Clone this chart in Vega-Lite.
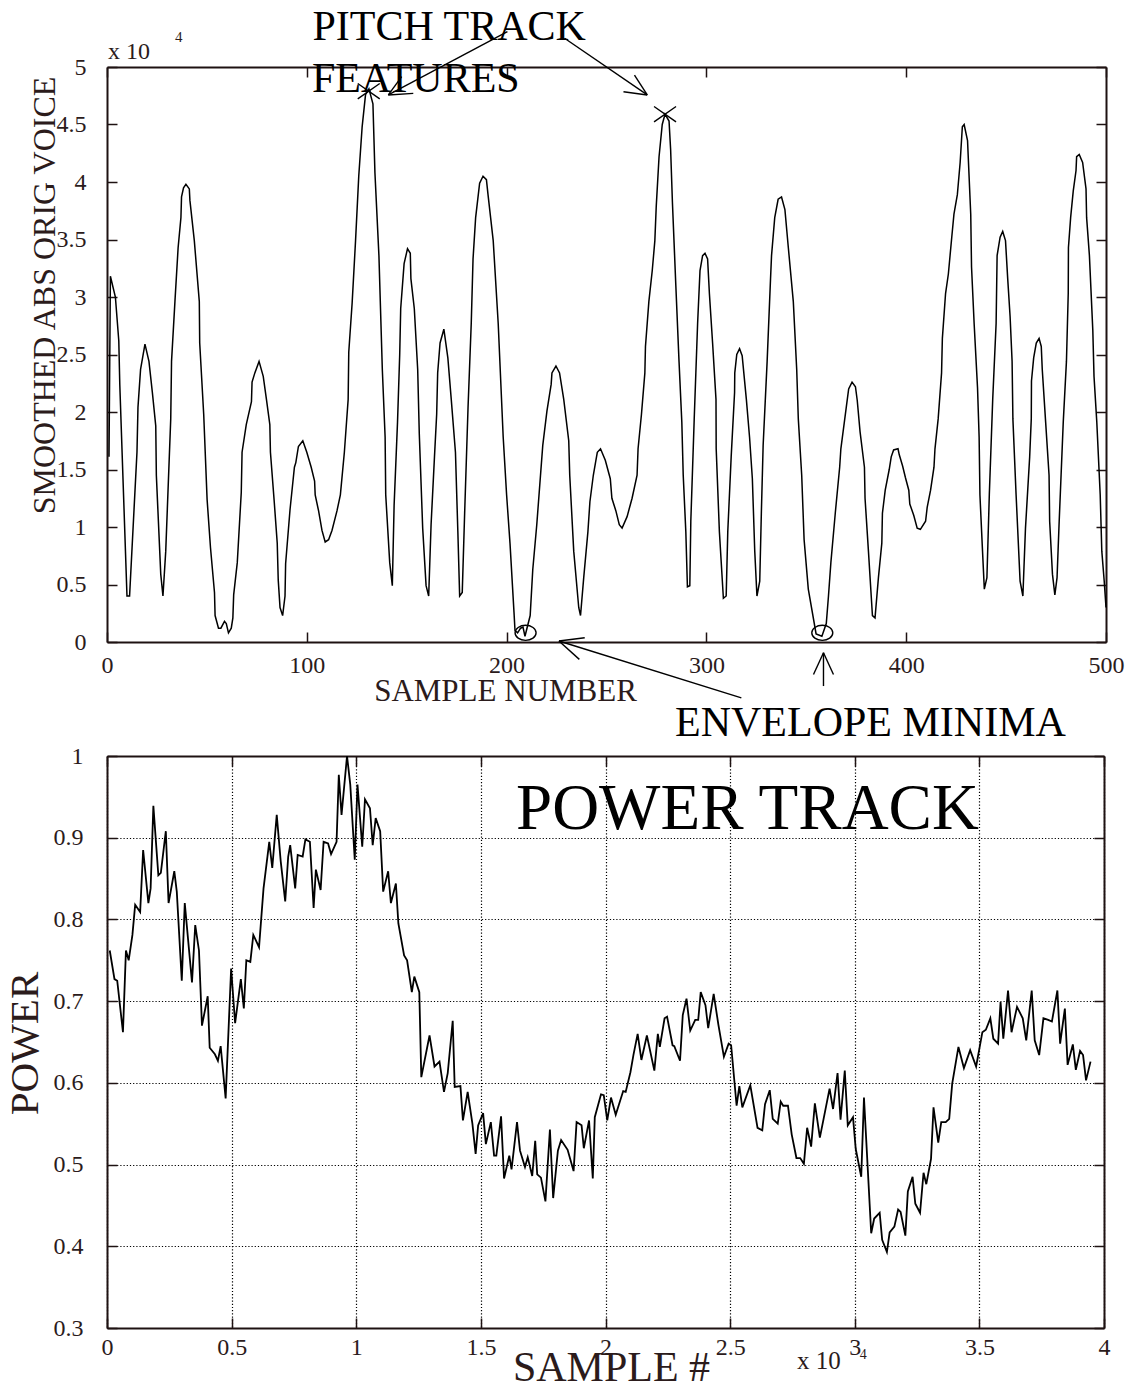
{
  "$schema": "https://vega.github.io/schema/vega-lite/v6.json",
  "background": "white",
  "padding": {"left": 4, "top": 5, "right": 5, "bottom": 2},
  "spacing": 114,
  "bounds": "flush",
  "datasets": {
    "voice": [
      {"s":1,"v":1.61},{"s":1.7,"v":3.18},{"s":4.2,"v":3.0},{"s":5.9,"v":2.62},{"s":6.4,"v":2.24},{"s":10,"v":0.4},{"s":11.3,"v":0.4},
      {"s":15,"v":1.65},{"s":15.5,"v":2.04},{"s":16.8,"v":2.37},{"s":19,"v":2.59},{"s":21,"v":2.44},{"s":22.7,"v":2.17},{"s":24.4,"v":1.88},
      {"s":24.7,"v":1.45},{"s":26.9,"v":0.59},{"s":28,"v":0.4},{"s":29.4,"v":0.79},{"s":31.9,"v":1.94},{"s":32.3,"v":2.44},{"s":34,"v":2.96},
      {"s":35.6,"v":3.43},{"s":37,"v":3.69},{"s":37.3,"v":3.87},{"s":38.3,"v":3.95},{"s":39.5,"v":3.98},{"s":41.2,"v":3.94},{"s":41.5,"v":3.84},
      {"s":43.7,"v":3.49},{"s":46.2,"v":2.96},{"s":46.4,"v":2.6},{"s":48.4,"v":1.98},{"s":50.1,"v":1.24},{"s":51.8,"v":0.82},{"s":53.8,"v":0.43},
      {"s":54.1,"v":0.23},{"s":55.8,"v":0.12},{"s":57,"v":0.12},{"s":58.8,"v":0.18},{"s":59.7,"v":0.16},{"s":60.8,"v":0.08},{"s":62.2,"v":0.12},
      {"s":63,"v":0.21},{"s":63.4,"v":0.41},{"s":65.2,"v":0.69},{"s":67.2,"v":1.3},{"s":67.6,"v":1.65},{"s":69.7,"v":1.89},{"s":72.3,"v":2.09},
      {"s":72.6,"v":2.26},{"s":74,"v":2.34},{"s":76.1,"v":2.44},{"s":78.2,"v":2.31},{"s":79.8,"v":2.11},{"s":81.5,"v":1.89},{"s":81.8,"v":1.65},
      {"s":83.7,"v":1.22},{"s":85.2,"v":0.86},{"s":85.7,"v":0.54},{"s":86.6,"v":0.3},{"s":87.9,"v":0.23},{"s":89.1,"v":0.4},{"s":89.4,"v":0.68},
      {"s":91.6,"v":1.15},{"s":93.8,"v":1.52},{"s":94.5,"v":1.56},{"s":95.8,"v":1.7},{"s":98,"v":1.75},{"s":100,"v":1.65},{"s":102.2,"v":1.52},
      {"s":103.9,"v":1.4},{"s":104.2,"v":1.28},{"s":105.9,"v":1.14},{"s":107.6,"v":0.97},{"s":109.2,"v":0.87},{"s":110.9,"v":0.89},{"s":112.6,"v":0.97},
      {"s":115.1,"v":1.14},{"s":116.8,"v":1.28},{"s":118.8,"v":1.65},{"s":120.7,"v":2.11},{"s":121,"v":2.52},{"s":122.7,"v":2.95},{"s":124.4,"v":3.49},
      {"s":126,"v":4.05},{"s":127.7,"v":4.48},{"s":129.4,"v":4.76},{"s":131.1,"v":4.81},{"s":133.1,"v":4.68},{"s":134.1,"v":4.08},{"s":136.1,"v":3.36},
      {"s":137.8,"v":2.37},{"s":139.2,"v":1.78},{"s":139.5,"v":1.28},{"s":141.5,"v":0.69},{"s":142.8,"v":0.49},{"s":143.7,"v":1.19},{"s":145.4,"v":1.91},
      {"s":146.5,"v":2.5},{"s":147,"v":2.9},{"s":148.7,"v":3.29},{"s":150.4,"v":3.42},{"s":151.8,"v":3.38},{"s":152.1,"v":3.16},{"s":153.8,"v":2.9},
      {"s":155.5,"v":2.37},{"s":156.3,"v":1.81},{"s":158,"v":0.99},{"s":159.7,"v":0.49},{"s":161,"v":0.4},{"s":162.2,"v":1.02},{"s":163.9,"v":1.61},
      {"s":165,"v":1.98},{"s":165.5,"v":2.34},{"s":166.7,"v":2.6},{"s":168.6,"v":2.72},{"s":170.6,"v":2.47},{"s":172.3,"v":2.11},{"s":174.4,"v":1.65},
      {"s":175.6,"v":0.96},{"s":176.5,"v":0.4},{"s":177.8,"v":0.43},{"s":179,"v":1.12},{"s":180.7,"v":2.04},{"s":182.3,"v":2.77},{"s":183.2,"v":3.33},
      {"s":184.5,"v":3.69},{"s":186.5,"v":3.99},{"s":188.2,"v":4.05},{"s":189.9,"v":4.02},{"s":190.7,"v":3.89},{"s":193.3,"v":3.49},{"s":195.8,"v":2.77},
      {"s":198.3,"v":1.78},{"s":200,"v":1.28},{"s":201.7,"v":0.86},{"s":203.7,"v":0.26},{"s":204.2,"v":0.1},{"s":205.5,"v":0.08},{"s":207,"v":0.12},
      {"s":208.2,"v":0.13},{"s":209.2,"v":0.05},{"s":211.8,"v":0.23},{"s":213.1,"v":0.63},{"s":215.1,"v":1.02},{"s":218.1,"v":1.71},{"s":220.2,"v":2.01},
      {"s":222.3,"v":2.24},{"s":222.7,"v":2.34},{"s":224.7,"v":2.4},{"s":226.5,"v":2.34},{"s":228.6,"v":2.11},{"s":231.1,"v":1.75},{"s":231.6,"v":1.45},
      {"s":233.6,"v":0.79},{"s":236.1,"v":0.3},{"s":237,"v":0.23},{"s":238.6,"v":0.56},{"s":240.7,"v":0.96},{"s":241.7,"v":1.22},{"s":243.4,"v":1.45},
      {"s":244.5,"v":1.56},{"s":245.4,"v":1.65},{"s":247,"v":1.68},{"s":249.4,"v":1.58},{"s":251.9,"v":1.42},{"s":252.7,"v":1.25},{"s":254.7,"v":1.14},
      {"s":256.4,"v":1.02},{"s":257.8,"v":0.99},{"s":260.3,"v":1.09},{"s":262.8,"v":1.25},{"s":265.3,"v":1.45},{"s":265.8,"v":1.68},{"s":267.5,"v":1.98},
      {"s":269.2,"v":2.34},{"s":269.5,"v":2.57},{"s":271.2,"v":2.96},{"s":272.9,"v":3.23},{"s":274.2,"v":3.49},{"s":274.9,"v":3.79},{"s":276.3,"v":4.22},
      {"s":277.9,"v":4.5},{"s":279.3,"v":4.59},{"s":281.3,"v":4.53},{"s":282.1,"v":4.28},{"s":283,"v":3.82},{"s":284.7,"v":3.1},{"s":286.3,"v":2.44},
      {"s":287.7,"v":1.91},{"s":288.4,"v":1.45},{"s":289.7,"v":0.96},{"s":290.5,"v":0.48},{"s":291.7,"v":0.49},{"s":292.2,"v":1.05},{"s":293.9,"v":1.94},
      {"s":295.6,"v":2.77},{"s":296.8,"v":3.23},{"s":298.1,"v":3.36},{"s":299.3,"v":3.38},{"s":300.6,"v":3.33},{"s":301.5,"v":3.03},{"s":303.1,"v":2.6},
      {"s":304.8,"v":2.11},{"s":304.9,"v":1.68},{"s":306.5,"v":0.96},{"s":308.5,"v":0.38},{"s":309.9,"v":0.4},{"s":310.7,"v":0.96},{"s":312.4,"v":1.61},
      {"s":314.1,"v":2.17},{"s":314.2,"v":2.34},{"s":315.2,"v":2.5},{"s":316.6,"v":2.55},{"s":317.9,"v":2.49},{"s":320,"v":2.11},{"s":321.6,"v":1.78},
      {"s":323,"v":1.42},{"s":324.2,"v":0.79},{"s":325.3,"v":0.4},{"s":326.7,"v":0.53},{"s":327.5,"v":1.12},{"s":328.4,"v":1.71},{"s":330.4,"v":2.44},
      {"s":332.1,"v":3.16},{"s":332.6,"v":3.36},{"s":334.2,"v":3.69},{"s":335.9,"v":3.85},{"s":337.6,"v":3.87},{"s":339.3,"v":3.76},{"s":341,"v":3.43},
      {"s":343.5,"v":2.96},{"s":345.2,"v":2.37},{"s":346,"v":1.94},{"s":347.7,"v":1.45},{"s":348.9,"v":0.89},{"s":351,"v":0.46},{"s":353.6,"v":0.2},
      {"s":354.9,"v":0.07},{"s":357.8,"v":0.05},{"s":360,"v":0.16},{"s":361.1,"v":0.4},{"s":362.3,"v":0.69},{"s":364.5,"v":1.12},{"s":366.7,"v":1.52},
      {"s":367.3,"v":1.68},{"s":370,"v":2.04},{"s":371.2,"v":2.2},{"s":372.9,"v":2.26},{"s":374.6,"v":2.22},{"s":375.5,"v":2.1},{"s":376.9,"v":1.83},
      {"s":379.1,"v":1.52},{"s":379.4,"v":1.25},{"s":381.1,"v":0.79},{"s":383.1,"v":0.23},{"s":384.4,"v":0.21},{"s":386.1,"v":0.56},{"s":387.8,"v":0.86},
      {"s":388.1,"v":1.12},{"s":389.5,"v":1.32},{"s":391.5,"v":1.5},{"s":392.5,"v":1.61},{"s":393.7,"v":1.67},{"s":395.9,"v":1.68},{"s":396.5,"v":1.63},
      {"s":398.2,"v":1.53},{"s":399.6,"v":1.43},{"s":401.3,"v":1.32},{"s":401.8,"v":1.2},{"s":403.8,"v":1.1},{"s":405.5,"v":0.99},{"s":407.1,"v":0.98},
      {"s":409.7,"v":1.05},{"s":410.5,"v":1.17},{"s":412.2,"v":1.32},{"s":413.9,"v":1.52},{"s":414.4,"v":1.68},{"s":416,"v":1.94},{"s":417.7,"v":2.34},
      {"s":418.1,"v":2.64},{"s":419.7,"v":3.03},{"s":421.1,"v":3.2},{"s":422.8,"v":3.52},{"s":423.9,"v":3.72},{"s":425.6,"v":3.89},{"s":427,"v":4.17},
      {"s":428.1,"v":4.48},{"s":429,"v":4.5},{"s":430.7,"v":4.36},{"s":432.3,"v":3.72},{"s":432.7,"v":3.26},{"s":434,"v":2.77},{"s":435.7,"v":2.21},
      {"s":436.5,"v":1.78},{"s":436.9,"v":1.28},{"s":438.2,"v":0.79},{"s":439.1,"v":0.46},{"s":440.4,"v":0.56},{"s":441.6,"v":1.28},{"s":443.3,"v":2.11},
      {"s":445,"v":2.77},{"s":445.5,"v":3.36},{"s":447,"v":3.52},{"s":448.3,"v":3.57},{"s":449.7,"v":3.49},{"s":450.8,"v":3.16},{"s":452,"v":2.83},
      {"s":453,"v":2.44},{"s":453.4,"v":1.94},{"s":455,"v":1.28},{"s":457,"v":0.53},{"s":458.4,"v":0.4},{"s":459.7,"v":0.99},{"s":461.8,"v":1.61},
      {"s":462.6,"v":1.94},{"s":462.7,"v":2.27},{"s":463.8,"v":2.47},{"s":465.1,"v":2.6},{"s":466.5,"v":2.64},{"s":467.6,"v":2.57},{"s":468.1,"v":2.37},
      {"s":469.8,"v":1.91},{"s":471.5,"v":1.45},{"s":471.8,"v":1.05},{"s":473.2,"v":0.59},{"s":474.4,"v":0.41},{"s":475.5,"v":0.56},{"s":476.5,"v":1.02},
      {"s":478.6,"v":1.91},{"s":480.2,"v":2.44},{"s":481.1,"v":3.03},{"s":481.2,"v":3.43},{"s":482.3,"v":3.69},{"s":483.6,"v":3.92},{"s":485,"v":4.1},
      {"s":485.3,"v":4.22},{"s":486.6,"v":4.24},{"s":488.3,"v":4.17},{"s":490,"v":3.94},{"s":490.3,"v":3.69},{"s":491.7,"v":3.36},{"s":493.4,"v":2.71},
      {"s":494,"v":2.31},{"s":495.4,"v":1.91},{"s":497.1,"v":1.28},{"s":497.9,"v":0.79},{"s":499.1,"v":0.53},{"s":500,"v":0.3}
    ],
    "pitchMarks": [{"s":131,"v":4.79},{"s":279.3,"v":4.59}],
    "minima": [{"s":209.5,"v":0.08},{"s":358,"v":0.08}],
    "arrows": [
      {"s":200.4,"v":5.307,"s2":140.8,"v2":4.757},
      {"s":140.8,"v":4.757,"s2":153.3,"v2":4.771},
      {"s":140.8,"v":4.757,"s2":147.5,"v2":4.916},
      {"s":229,"v":5.25,"s2":270.4,"v2":4.757},
      {"s":270.4,"v":4.757,"s2":264,"v2":4.93},
      {"s":270.4,"v":4.757,"s2":258.5,"v2":4.785},
      {"s":317.5,"v":-0.486,"s2":226.2,"v2":0.009},
      {"s":226.2,"v":0.009,"s2":236.4,"v2":-0.151},
      {"s":226.2,"v":0.009,"s2":239.1,"v2":0.037},
      {"s":358.6,"v":-0.383,"s2":358.6,"v2":-0.093},
      {"s":358.6,"v":-0.093,"s2":353.6,"v2":-0.283},
      {"s":358.6,"v":-0.093,"s2":363.6,"v2":-0.283}
    ],
    "bigNotes": [
      {"s":102.8,"v":5.235,"label":"PITCH TRACK"},
      {"s":102.6,"v":4.785,"label":"FEATURES"},
      {"s":284.3,"v":-0.815,"label":"ENVELOPE MINIMA"}
    ],
    "power": [
      {"x":0.011,"p":0.762},{"x":0.03,"p":0.727},{"x":0.041,"p":0.725},{"x":0.064,"p":0.662},{"x":0.076,"p":0.762},{"x":0.087,"p":0.75},
      {"x":0.102,"p":0.781},{"x":0.113,"p":0.818},{"x":0.133,"p":0.809},{"x":0.145,"p":0.885},{"x":0.166,"p":0.82},{"x":0.175,"p":0.838},
      {"x":0.186,"p":0.939},{"x":0.206,"p":0.854},{"x":0.216,"p":0.857},{"x":0.236,"p":0.908},{"x":0.247,"p":0.82},{"x":0.27,"p":0.859},
      {"x":0.28,"p":0.834},{"x":0.3,"p":0.725},{"x":0.312,"p":0.82},{"x":0.341,"p":0.723},{"x":0.354,"p":0.793},{"x":0.369,"p":0.762},
      {"x":0.381,"p":0.67},{"x":0.404,"p":0.706},{"x":0.412,"p":0.643},{"x":0.433,"p":0.635},{"x":0.445,"p":0.627},{"x":0.456,"p":0.645},
      {"x":0.476,"p":0.581},{"x":0.498,"p":0.74},{"x":0.514,"p":0.673},{"x":0.537,"p":0.727},{"x":0.549,"p":0.691},{"x":0.559,"p":0.75},
      {"x":0.575,"p":0.748},{"x":0.587,"p":0.781},{"x":0.61,"p":0.766},{"x":0.628,"p":0.838},{"x":0.651,"p":0.895},{"x":0.663,"p":0.863},
      {"x":0.681,"p":0.928},{"x":0.697,"p":0.871},{"x":0.715,"p":0.822},{"x":0.727,"p":0.877},{"x":0.735,"p":0.891},{"x":0.755,"p":0.838},
      {"x":0.765,"p":0.879},{"x":0.785,"p":0.877},{"x":0.796,"p":0.898},{"x":0.814,"p":0.895},{"x":0.829,"p":0.814},{"x":0.838,"p":0.861},
      {"x":0.857,"p":0.836},{"x":0.869,"p":0.895},{"x":0.887,"p":0.893},{"x":0.899,"p":0.88},{"x":0.921,"p":0.895},{"x":0.93,"p":0.977},
      {"x":0.941,"p":0.928},{"x":0.963,"p":1.0},{"x":0.976,"p":0.965},{"x":0.994,"p":0.873},{"x":1.005,"p":0.965},{"x":1.024,"p":0.889},
      {"x":1.035,"p":0.947},{"x":1.055,"p":0.936},{"x":1.066,"p":0.891},{"x":1.078,"p":0.924},{"x":1.096,"p":0.908},{"x":1.108,"p":0.834},
      {"x":1.128,"p":0.859},{"x":1.139,"p":0.82},{"x":1.159,"p":0.844},{"x":1.169,"p":0.795},{"x":1.192,"p":0.756},{"x":1.204,"p":0.75},
      {"x":1.223,"p":0.711},{"x":1.233,"p":0.73},{"x":1.253,"p":0.711},{"x":1.261,"p":0.607},{"x":1.294,"p":0.658},{"x":1.314,"p":0.62},
      {"x":1.334,"p":0.626},{"x":1.352,"p":0.589},{"x":1.367,"p":0.612},{"x":1.387,"p":0.676},{"x":1.395,"p":0.595},{"x":1.418,"p":0.596},
      {"x":1.428,"p":0.554},{"x":1.447,"p":0.589},{"x":1.466,"p":0.55},{"x":1.479,"p":0.513},{"x":1.489,"p":0.548},{"x":1.509,"p":0.563},
      {"x":1.52,"p":0.525},{"x":1.54,"p":0.552},{"x":1.553,"p":0.511},{"x":1.562,"p":0.511},{"x":1.581,"p":0.559},{"x":1.593,"p":0.483},
      {"x":1.614,"p":0.511},{"x":1.623,"p":0.494},{"x":1.645,"p":0.552},{"x":1.657,"p":0.517},{"x":1.677,"p":0.497},{"x":1.688,"p":0.509},
      {"x":1.706,"p":0.486},{"x":1.718,"p":0.529},{"x":1.726,"p":0.488},{"x":1.741,"p":0.484},{"x":1.759,"p":0.455},{"x":1.777,"p":0.543},
      {"x":1.79,"p":0.459},{"x":1.809,"p":0.517},{"x":1.822,"p":0.53},{"x":1.848,"p":0.518},{"x":1.872,"p":0.492},{"x":1.884,"p":0.552},
      {"x":1.904,"p":0.548},{"x":1.913,"p":0.52},{"x":1.934,"p":0.554},{"x":1.949,"p":0.483},{"x":1.957,"p":0.558},{"x":1.982,"p":0.586},
      {"x":1.993,"p":0.585},{"x":2.007,"p":0.554},{"x":2.022,"p":0.582},{"x":2.041,"p":0.561},{"x":2.071,"p":0.59},{"x":2.081,"p":0.589},
      {"x":2.1,"p":0.613},{"x":2.112,"p":0.634},{"x":2.129,"p":0.66},{"x":2.144,"p":0.628},{"x":2.166,"p":0.658},{"x":2.196,"p":0.615},
      {"x":2.21,"p":0.66},{"x":2.218,"p":0.644},{"x":2.237,"p":0.679},{"x":2.247,"p":0.681},{"x":2.269,"p":0.646},{"x":2.276,"p":0.645},
      {"x":2.299,"p":0.627},{"x":2.31,"p":0.683},{"x":2.325,"p":0.703},{"x":2.34,"p":0.664},{"x":2.36,"p":0.677},{"x":2.372,"p":0.677},
      {"x":2.382,"p":0.711},{"x":2.401,"p":0.695},{"x":2.412,"p":0.667},{"x":2.434,"p":0.709},{"x":2.453,"p":0.671},{"x":2.475,"p":0.632},
      {"x":2.494,"p":0.648},{"x":2.504,"p":0.646},{"x":2.526,"p":0.572},{"x":2.537,"p":0.596},{"x":2.549,"p":0.57},{"x":2.581,"p":0.597},
      {"x":2.61,"p":0.545},{"x":2.629,"p":0.542},{"x":2.64,"p":0.574},{"x":2.659,"p":0.591},{"x":2.671,"p":0.556},{"x":2.691,"p":0.55},
      {"x":2.703,"p":0.577},{"x":2.713,"p":0.572},{"x":2.732,"p":0.572},{"x":2.747,"p":0.537},{"x":2.766,"p":0.508},{"x":2.781,"p":0.508},
      {"x":2.796,"p":0.501},{"x":2.809,"p":0.545},{"x":2.825,"p":0.522},{"x":2.84,"p":0.575},{"x":2.86,"p":0.533},{"x":2.875,"p":0.556},
      {"x":2.899,"p":0.593},{"x":2.913,"p":0.568},{"x":2.931,"p":0.612},{"x":2.943,"p":0.555},{"x":2.96,"p":0.615},{"x":2.972,"p":0.548},
      {"x":2.993,"p":0.558},{"x":3.004,"p":0.519},{"x":3.026,"p":0.485},{"x":3.037,"p":0.582},{"x":3.066,"p":0.416},{"x":3.078,"p":0.434},
      {"x":3.1,"p":0.441},{"x":3.11,"p":0.408},{"x":3.129,"p":0.393},{"x":3.14,"p":0.417},{"x":3.159,"p":0.424},{"x":3.174,"p":0.445},
      {"x":3.184,"p":0.442},{"x":3.203,"p":0.413},{"x":3.213,"p":0.467},{"x":3.232,"p":0.485},{"x":3.243,"p":0.452},{"x":3.262,"p":0.441},
      {"x":3.276,"p":0.49},{"x":3.287,"p":0.476},{"x":3.306,"p":0.507},{"x":3.316,"p":0.57},{"x":3.335,"p":0.527},{"x":3.347,"p":0.552},
      {"x":3.365,"p":0.552},{"x":3.379,"p":0.556},{"x":3.391,"p":0.599},{"x":3.416,"p":0.644},{"x":3.438,"p":0.618},{"x":3.463,"p":0.64},
      {"x":3.487,"p":0.62},{"x":3.512,"p":0.662},{"x":3.526,"p":0.665},{"x":3.544,"p":0.679},{"x":3.556,"p":0.654},{"x":3.575,"p":0.648},
      {"x":3.585,"p":0.699},{"x":3.596,"p":0.654},{"x":3.615,"p":0.713},{"x":3.629,"p":0.662},{"x":3.651,"p":0.693},{"x":3.674,"p":0.679},
      {"x":3.688,"p":0.652},{"x":3.71,"p":0.713},{"x":3.722,"p":0.652},{"x":3.74,"p":0.634},{"x":3.757,"p":0.679},{"x":3.776,"p":0.677},
      {"x":3.791,"p":0.675},{"x":3.813,"p":0.713},{"x":3.824,"p":0.648},{"x":3.843,"p":0.691},{"x":3.854,"p":0.622},{"x":3.875,"p":0.647},
      {"x":3.887,"p":0.616},{"x":3.904,"p":0.639},{"x":3.916,"p":0.634},{"x":3.928,"p":0.603},{"x":3.946,"p":0.626}
    ]
  },
  "vconcat": [
    {
      "width": 999,
      "height": 575,
      "layer": [
        {
          "data": {"name": "voice"},
          "mark": {"type": "line", "color": "black", "strokeWidth": 1.5},
          "encoding": {
            "x": {"field": "s", "type": "quantitative",
              "scale": {"domain": [0, 500], "nice": false, "zero": false},
              "axis": {"orient": "bottom", "values": [0, 100, 200, 300, 400, 500], "labelPadding": 21,
                "title": "SAMPLE NUMBER", "titleFontSize": 31, "titleX": 398, "titleY": 58,
                "titleBaseline": "alphabetic", "titleAlign": "center"}},
            "y": {"field": "v", "type": "quantitative",
              "scale": {"domain": [0, 5], "nice": false},
              "axis": {"orient": "left", "values": [0, 0.5, 1, 1.5, 2, 2.5, 3, 3.5, 4, 4.5, 5], "format": "~g", "labelPadding": 31,
                "title": "SMOOTHED ABS ORIG VOICE", "titleFontSize": 32, "titleAngle": -90, "titleX": -53, "titleY": 228,
                "titleBaseline": "alphabetic", "titleAlign": "center"}}
          }
        },
        {
          "data": {"name": "pitchMarks"},
          "mark": {"type": "point", "shape": "M -1 -0.7 L 1 0.7 M -1 0.7 L 1 -0.7", "filled": false, "stroke": "black", "strokeWidth": 1.4, "size": 484, "opacity": 1},
          "encoding": {
            "x": {"field": "s", "type": "quantitative",
              "scale": {"domain": [0, 500], "nice": false, "zero": false},
              "axis": {"orient": "top", "values": [0, 100, 200, 300, 400, 500], "labels": false, "title": null}},
            "y": {"field": "v", "type": "quantitative",
              "scale": {"domain": [0, 5], "nice": false},
              "axis": {"orient": "right", "values": [0, 0.5, 1, 1.5, 2, 2.5, 3, 3.5, 4, 4.5, 5], "labels": false, "title": null}}
          }
        },
        {
          "data": {"name": "minima"},
          "mark": {"type": "point", "shape": "M -1 0 A 1 0.72 0 1 0 1 0 A 1 0.72 0 1 0 -1 0", "filled": false, "stroke": "black", "strokeWidth": 1.4, "size": 441, "opacity": 1},
          "encoding": {
            "x": {"field": "s", "type": "quantitative", "scale": {"domain": [0, 500], "nice": false, "zero": false}, "axis": null},
            "y": {"field": "v", "type": "quantitative", "scale": {"domain": [0, 5], "nice": false}, "axis": null}
          }
        },
        {
          "data": {"name": "arrows"},
          "mark": {"type": "rule", "color": "black", "strokeWidth": 1.4},
          "encoding": {
            "x": {"field": "s", "type": "quantitative", "scale": {"domain": [0, 500], "nice": false, "zero": false}, "axis": null},
            "y": {"field": "v", "type": "quantitative", "scale": {"domain": [0, 5], "nice": false}, "axis": null},
            "x2": {"field": "s2"},
            "y2": {"field": "v2"}
          }
        },
        {
          "data": {"name": "bigNotes"},
          "mark": {"type": "text", "align": "left", "baseline": "alphabetic", "fontSize": 42, "color": "black"},
          "encoding": {
            "x": {"field": "s", "type": "quantitative", "scale": {"domain": [0, 500], "nice": false, "zero": false}, "axis": null},
            "y": {"field": "v", "type": "quantitative", "scale": {"domain": [0, 5], "nice": false}, "axis": null},
            "text": {"field": "label"}
          }
        },
        {
          "data": {"values": [{"s": 0.5, "v": 5.07, "label": "x 10"}]},
          "mark": {"type": "text", "align": "left", "baseline": "alphabetic", "fontSize": 24, "color": "#2b1b1b"},
          "encoding": {
            "x": {"field": "s", "type": "quantitative", "scale": {"domain": [0, 500], "nice": false, "zero": false}, "axis": null},
            "y": {"field": "v", "type": "quantitative", "scale": {"domain": [0, 5], "nice": false}, "axis": null},
            "text": {"field": "label"}
          }
        },
        {
          "data": {"values": [{"s": 34, "v": 5.22, "label": "4"}]},
          "mark": {"type": "text", "align": "left", "baseline": "alphabetic", "fontSize": 15, "color": "#2b1b1b"},
          "encoding": {
            "x": {"field": "s", "type": "quantitative", "scale": {"domain": [0, 500], "nice": false, "zero": false}, "axis": null},
            "y": {"field": "v", "type": "quantitative", "scale": {"domain": [0, 5], "nice": false}, "axis": null},
            "text": {"field": "label"}
          }
        }
      ],
      "resolve": {"axis": {"x": "independent", "y": "independent"}}
    },
    {
      "width": 997,
      "height": 572,
      "layer": [
        {
          "data": {"name": "power"},
          "mark": {"type": "line", "color": "black", "strokeWidth": 1.8},
          "encoding": {
            "x": {"field": "x", "type": "quantitative",
              "scale": {"domain": [0, 4], "nice": false, "zero": false},
              "axis": {"orient": "bottom", "values": [0, 0.5, 1, 1.5, 2, 2.5, 3, 3.5, 4], "format": "~g", "labelPadding": 17,
                "grid": true, "gridDash": [1.2, 2], "gridColor": "black", "gridWidth": 1.2, "gridOpacity": 1,
                "title": "SAMPLE #", "titleFontSize": 42, "titleX": 504, "titleY": 52,
                "titleBaseline": "alphabetic", "titleAlign": "center"}},
            "y": {"field": "p", "type": "quantitative",
              "scale": {"domain": [0.3, 1], "nice": false, "zero": false},
              "axis": {"orient": "left", "values": [0.3, 0.4, 0.5, 0.6, 0.7, 0.8, 0.9, 1], "format": "~g", "labelPadding": 34,
                "grid": true, "gridDash": [1.2, 2], "gridColor": "black", "gridWidth": 1.2, "gridOpacity": 1,
                "title": "POWER", "titleFontSize": 41, "titleAngle": -90, "titleX": -70, "titleY": 287,
                "titleBaseline": "alphabetic", "titleAlign": "center"}}
          }
        },
        {
          "data": {"values": [{"x": 1.641, "p": 0.9106, "label": "POWER TRACK"}]},
          "mark": {"type": "text", "align": "left", "baseline": "alphabetic", "fontSize": 65, "color": "black"},
          "encoding": {
            "x": {"field": "x", "type": "quantitative",
              "scale": {"domain": [0, 4], "nice": false, "zero": false},
              "axis": {"orient": "top", "values": [0, 0.5, 1, 1.5, 2, 2.5, 3, 3.5, 4], "labels": false, "title": null, "grid": false}},
            "y": {"field": "p", "type": "quantitative",
              "scale": {"domain": [0.3, 1], "nice": false, "zero": false},
              "axis": {"orient": "right", "values": [0.3, 0.4, 0.5, 0.6, 0.7, 0.8, 0.9, 1], "labels": false, "title": null, "grid": false}},
            "text": {"field": "label"}
          }
        },
        {
          "data": {"values": [{"x": 2.768, "p": 0.25, "label": "x 10"}]},
          "mark": {"type": "text", "align": "left", "baseline": "alphabetic", "fontSize": 25, "color": "#2b1b1b"},
          "encoding": {
            "x": {"field": "x", "type": "quantitative", "scale": {"domain": [0, 4], "nice": false, "zero": false}, "axis": null},
            "y": {"field": "p", "type": "quantitative", "scale": {"domain": [0.3, 1], "nice": false, "zero": false}, "axis": null},
            "text": {"field": "label"}
          }
        },
        {
          "data": {"values": [{"x": 3.02, "p": 0.262, "label": "4"}]},
          "mark": {"type": "text", "align": "left", "baseline": "alphabetic", "fontSize": 14, "color": "#2b1b1b"},
          "encoding": {
            "x": {"field": "x", "type": "quantitative", "scale": {"domain": [0, 4], "nice": false, "zero": false}, "axis": null},
            "y": {"field": "p", "type": "quantitative", "scale": {"domain": [0.3, 1], "nice": false, "zero": false}, "axis": null},
            "text": {"field": "label"}
          }
        }
      ],
      "resolve": {"axis": {"x": "independent", "y": "independent"}}
    }
  ],
  "config": {
    "view": {"stroke": null},
    "font": "Liberation Serif",
    "text": {"font": "Liberation Serif"},
    "axis": {
      "domainColor": "#1e1212",
      "domainWidth": 2,
      "tickColor": "#1e1212",
      "tickSize": -10,
      "tickWidth": 1.5,
      "grid": false,
      "labelFont": "Liberation Serif",
      "labelFontSize": 24,
      "labelColor": "#2b1b1b",
      "labelFlush": false,
      "labelOverlap": false,
      "titleFont": "Liberation Serif",
      "titleFontWeight": "normal",
      "titleColor": "#2b1b1b"
    }
  }
}
